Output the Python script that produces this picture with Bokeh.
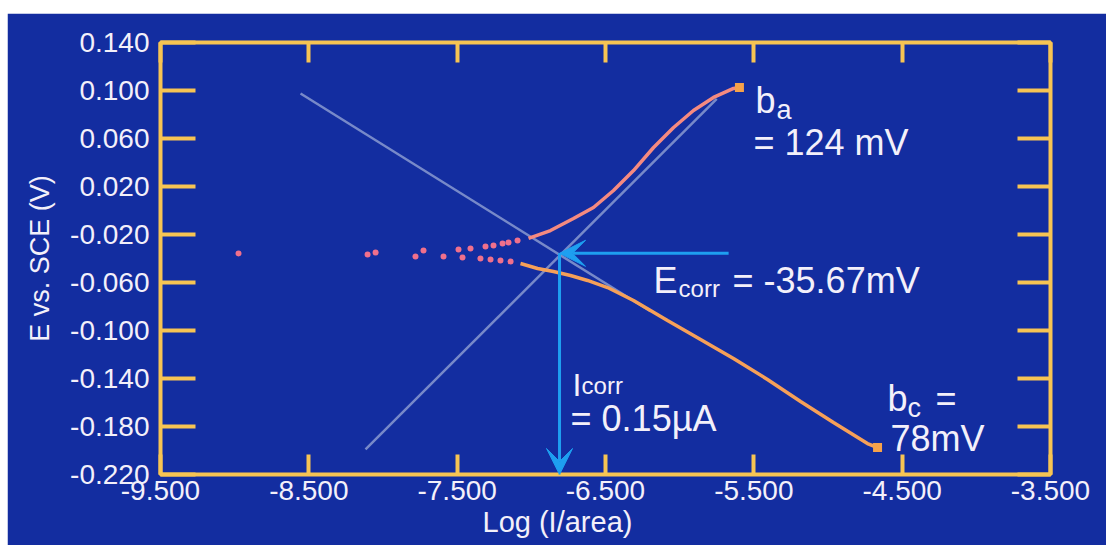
from bokeh.plotting import figure
from bokeh.models import (FixedTicker, PrintfTickFormatter, LinearAxis, Range1d, Label, Title,
                          Arrow, VeeHead, Spacer, CustomJSTickFormatter)
from bokeh.layouts import column, row
from bokeh.embed import file_html
from bokeh.resources import INLINE

# ---------------- data ----------------
x_ticks = [-9.5, -8.5, -7.5, -6.5, -5.5, -4.5, -3.5]
y_ticks = [0.14, 0.10, 0.06, 0.02, -0.02, -0.06, -0.10, -0.14, -0.18, -0.22]

# sparse measured points near the corrosion potential
dots_x = [-8.974, -8.050, -7.727, -7.491, -7.410, -7.309, -7.255, -7.194, -7.154, -7.093,
          -8.104, -7.781, -7.592, -7.464, -7.343, -7.275, -7.208, -7.140]
dots_y = [-0.0358, -0.0350, -0.0333, -0.0325, -0.0317, -0.0300, -0.0292, -0.0275, -0.0267, -0.0250,
          -0.0367, -0.0383, -0.0383, -0.0392, -0.0400, -0.0408, -0.0417, -0.0425]

# anodic branch
anodic_x = [-7.019, -6.871, -6.716, -6.581, -6.446, -6.311, -6.176, -6.041, -5.907, -5.772, -5.637, -5.597]
anodic_y = [-0.0233, -0.0167, -0.0067, 0.0025, 0.0167, 0.0333, 0.0525, 0.0692, 0.0833, 0.0942, 0.1017, 0.1025]

# cathodic branch
cathodic_x = [-7.073, -6.958, -6.851, -6.736, -6.621, -6.486, -6.311, -6.082, -5.859, -5.637,
              -5.408, -5.185, -4.963, -4.734, -4.666]
cathodic_y = [-0.0442, -0.0483, -0.0508, -0.0542, -0.0583, -0.0642, -0.0750, -0.0917, -0.1075, -0.1233,
              -0.1408, -0.1592, -0.1767, -0.1942, -0.1975]

# Tafel extrapolation lines (end points)
tafel_c_x = [-8.556, -6.197]
tafel_c_y = [0.0975, -0.0840]
tafel_a_x = [-8.118, -5.750]
tafel_a_y = [-0.1990, 0.0930]

e_corr = -0.03567
log_i_corr = -6.81
arrow_from_x = -5.67
y_bottom = -0.22

# ---------------- style ----------------
BG = "#132DA0"
ORANGE = "#F7C453"
TXT = "#F3F0FA"
CYAN = "#1E9FF0"
FONT = "Liberation Sans"

p = figure(width=1099, height=532, x_range=Range1d(-9.5, -3.5), y_range=Range1d(-0.22, 0.14),
           output_backend="svg", toolbar_location=None,
           min_border_left=153, min_border_right=56, min_border_top=29, min_border_bottom=71,
           background_fill_color=BG, border_fill_color=BG,
           outline_line_color=ORANGE, outline_line_width=4)
p.grid.visible = False

def style_axis(ax, tick_in, labels=True):
    ax.axis_line_color = None
    ax.major_tick_in = tick_in
    ax.major_tick_out = 0
    ax.major_tick_line_color = ORANGE
    ax.major_tick_line_width = 4
    ax.minor_tick_line_color = None
    ax.major_label_text_font = FONT
    ax.major_label_text_font_size = "28px"
    ax.major_label_text_color = TXT
    if not labels:
        ax.formatter = CustomJSTickFormatter(code="return ''")

xa = p.below[0]
xa.ticker = FixedTicker(ticks=x_ticks)
xa.formatter = PrintfTickFormatter(format="%.3f")
style_axis(xa, 20)
xa.major_label_standoff = 6

ya = p.left[0]
ya.ticker = FixedTicker(ticks=y_ticks)
ya.formatter = PrintfTickFormatter(format="%.3f")
style_axis(ya, 35)
ya.major_label_standoff = 11
ya.axis_label = "E vs. SCE (V)"
ya.axis_label_text_font = FONT
ya.axis_label_text_font_size = "27px"
ya.axis_label_text_font_style = "normal"
ya.axis_label_text_color = TXT
ya.axis_label_standoff = 12

top = LinearAxis(ticker=FixedTicker(ticks=x_ticks))
style_axis(top, 20, labels=False)
p.add_layout(top, "above")
right = LinearAxis(ticker=FixedTicker(ticks=y_ticks))
style_axis(right, 33, labels=False)
p.add_layout(right, "right")

# x axis title (sits left of centre in the original)
p.add_layout(Title(text="Log (I/area)", align="left", offset=322, standoff=2,
                   text_font=FONT, text_font_size="29px", text_font_style="normal",
                   text_color=TXT), "below")

# Tafel lines
p.line(tafel_c_x, tafel_c_y, line_color="#8A9AD0", line_width=2.5, line_alpha=0.85)
p.line(tafel_a_x, tafel_a_y, line_color="#8A9AD0", line_width=2.5, line_alpha=0.85)

# measured curves
p.line(cathodic_x, cathodic_y, line_color="#F6A058", line_width=3.5)
p.line(anodic_x, anodic_y, line_color="#F58A80", line_width=3.5)
p.scatter(dots_x, dots_y, size=6, fill_color="#F0708C", line_color=None)
p.scatter([anodic_x[-1], cathodic_x[-1]], [anodic_y[-1], cathodic_y[-1]], marker="square",
          size=9, fill_color="#F6A24A", line_color=None)

# arrows
p.add_layout(Arrow(x_start=arrow_from_x, y_start=e_corr, x_end=log_i_corr, y_end=e_corr,
                   line_color=CYAN, line_width=3,
                   end=VeeHead(size=26, fill_color=CYAN, line_color=CYAN)))
p.add_layout(Arrow(x_start=log_i_corr, y_start=e_corr, x_end=log_i_corr, y_end=y_bottom,
                   line_color=CYAN, line_width=3,
                   end=VeeHead(size=26, fill_color=CYAN, line_color=CYAN)))

def lab(x, y, text, size, dx=0, dy=0, align="left"):
    p.add_layout(Label(x=x, y=y, x_offset=dx, y_offset=dy, text=text, text_font=FONT,
                       text_font_size=f"{size}px", text_color=TXT, text_align=align,
                       text_baseline="alphabetic"))

# b_a = 124 mV
lab(-5.489, 0.0917, "b", 36)
lab(-5.489, 0.0917, "a", 27, dx=21, dy=-10)
lab(-5.489, 0.0917, "= 124 mV", 36, dx=-2, dy=-42)
# E_corr = -35.67mV
lab(-6.176, -0.0583, "E", 36)
lab(-6.176, -0.0583, "corr", 24, dx=25, dy=-8)
lab(-6.176, -0.0583, "= -35.67mV", 36, dx=79)
# I_corr = 0.15 µA
lab(-6.722, -0.1458, "I", 32)
lab(-6.722, -0.1458, "corr", 24, dx=9)
lab(-6.722, -0.1458, "= 0.15µA", 36, dx=-2, dy=-33)
# b_c = 78mV
lab(-4.599, -0.1567, "b", 36)
lab(-4.599, -0.1567, "c", 27, dx=20, dy=-9)
lab(-4.599, -0.1567, "=", 36, dx=48)
lab(-4.599, -0.1567, "78mV", 36, dx=3, dy=-40)

layout = row(Spacer(width=7, height=1), column(Spacer(width=1099, height=13), p))
open("out.html", "w").write(file_html(layout, INLINE))
